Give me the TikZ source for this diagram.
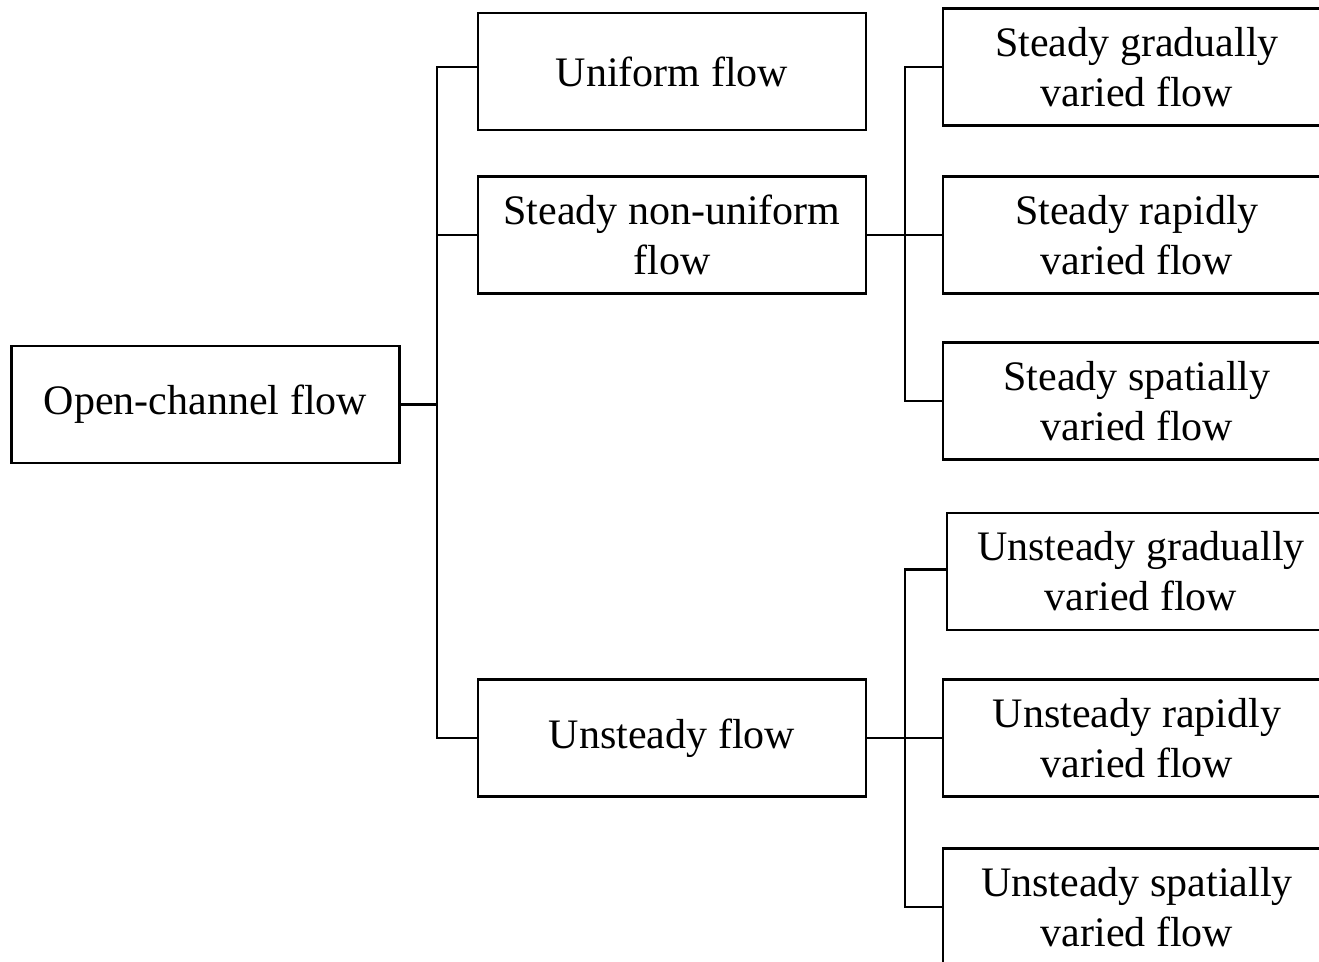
\documentclass[tikz,border=0pt]{standalone}
\usepackage{fontspec}
\setmainfont{Liberation Serif}
\usetikzlibrary{positioning, calc}

\begin{document}
\begin{tikzpicture}
      [x=0.75pt, y=-0.75pt, line width=2.1pt,
       flowbox/.style={rectangle,draw=black,line width=1.9pt,fill=white,
         minimum width=291pt,minimum height=87.75pt,align=center,
         font=\fontsize{31.5}{37.5}\selectfont}]
      \clip (0,0) rectangle (1319,962);

      \node (open) at (205.5,404.5) [flowbox] {Open-channel flow};

      \node (uni) at (672,71.5) [flowbox] {Uniform flow};
      \node (snu) at (672,235) [flowbox] {Steady non-uniform\\flow};
      \node (uns) at (672,738) [flowbox] {Unsteady flow};

      \node (sgv) at (1137,67) [flowbox] {Steady gradually\\varied flow};
      \node (srv) at (1137,235) [flowbox] {Steady rapidly\\varied flow};
      \node (ssv) at (1137,401) [flowbox] {Steady spatially\\varied flow};

      \node (ugv) at (1141,571.5) [flowbox] {Unsteady gradually\\varied flow};
      \node (urv) at (1137,738) [flowbox] {Unsteady rapidly\\varied flow};
      \node (usv) at (1137,907) [flowbox] {Unsteady spatially\\varied flow};

      \coordinate (j1) at (437,404.5);
      \coordinate (j2) at (905,235);
      \coordinate (j3) at (905,738);

      \draw (open.east) -- (j1);
      \draw ([yshift=3.4pt]uni.west) -| (j1) |- (uns.west);
      \draw (snu.west) -- (snu.west -| j1);

      \draw (snu.east) -- (srv.west);
      \draw (sgv.west) -| (j2) |- (ssv.west);

      \draw (uns.east) -- (urv.west);
      \draw ([yshift=1.5pt]ugv.west) -| (j3) |- (usv.west);
\end{tikzpicture}
\end{document}
